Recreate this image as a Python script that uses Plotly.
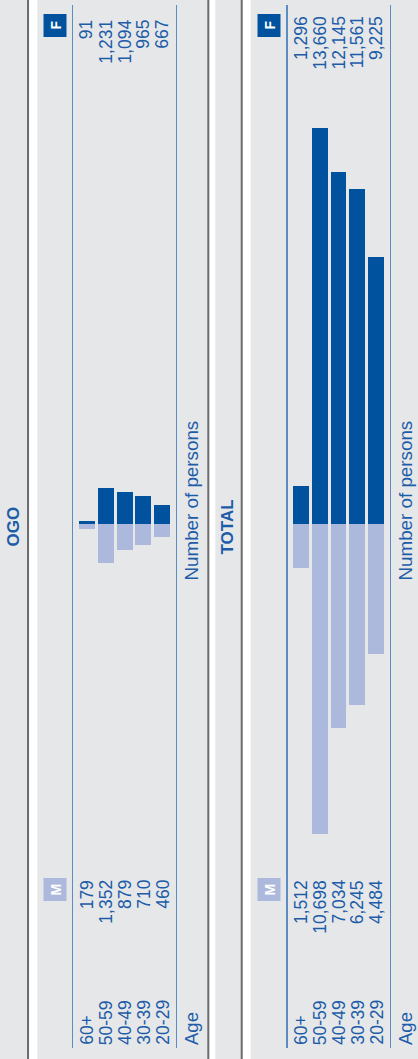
import plotly.graph_objects as go

# ---------------- data ----------------
age_groups = ["60+", "50-59", "40-49", "30-39", "20-29"]
ogo_female = [91, 1231, 1094, 965, 667]
ogo_male = [179, 1352, 879, 710, 460]
total_female = [1296, 13660, 12145, 11561, 9225]
total_male = [1512, 10698, 7034, 6245, 4484]
panel_titles = ["OGO", "TOTAL"]
value_axis_title = "Number of persons"
category_axis_title = "Age"

# ---------------- style ----------------
W, H = 418, 1059
F_COLOR = "#00529f"
M_COLOR = "#adb9dc"
TEXT_BLUE = "#1c5ca8"
LINE_BLUE = "#5d8cc4"
BG = "#e6e7e9"
DARK = "#6e6e6e"
FONT = "Liberation Sans, Arial, Helvetica, sans-serif"


def fx(px):
    return px / W


def fy(py):
    return 1 - py / H


fig = go.Figure()

panels = [
    dict(title=panel_titles[0], female=ogo_female, male=ogo_male, off=0,
         xa="x", ya="y", f_top=18),
    dict(title=panel_titles[1], female=total_female, male=total_male, off=214,
         xa="x2", ya="y2", f_top=14),
]

annotations = []
shapes = []

# page structure (strips, separators)
for x0, x1 in [(29.3, 37.3), (209.3, 215.3), (242.7, 250.7)]:
    shapes.append(dict(type="rect", xref="paper", yref="paper",
                       x0=fx(x0), x1=fx(x1), y0=0, y1=1,
                       fillcolor="#ffffff", line=dict(width=0), layer="below"))
for xc in [28.0, 208.3, 241.7]:
    shapes.append(dict(type="line", xref="paper", yref="paper",
                       x0=fx(xc), x1=fx(xc), y0=0, y1=1,
                       line=dict(color=DARK, width=2), layer="below"))

title_centers = [13.5, 227.5]

for i, p in enumerate(panels):
    off = p["off"]
    fig.add_trace(go.Bar(
        x=age_groups, y=p["female"], xaxis=p["xa"], yaxis=p["ya"],
        marker=dict(color=F_COLOR, line=dict(width=0)), width=0.85,
        hoverinfo="skip", showlegend=False))
    fig.add_trace(go.Bar(
        x=age_groups, y=[-v for v in p["male"]], xaxis=p["xa"], yaxis=p["ya"],
        marker=dict(color=M_COLOR, line=dict(width=0)), width=0.85,
        hoverinfo="skip", showlegend=False))

    # panel title
    annotations.append(dict(
        text="<b>%s</b>" % p["title"], textangle=-90, xref="paper", yref="paper",
        x=fx(title_centers[i]), y=fy(527), xanchor="center", yanchor="middle",
        showarrow=False, font=dict(family=FONT, size=17, color=TEXT_BLUE)))

    # F / M boxes
    for letter, color, y0, y1 in [("F", F_COLOR, 14, 37), ("M", M_COLOR, 878, 901)]:
        shapes.append(dict(type="rect", xref="paper", yref="paper",
                           x0=fx(43.5 + off), x1=fx(66.5 + off),
                           y0=fy(y1), y1=fy(y0),
                           fillcolor=color, line=dict(width=0)))
        annotations.append(dict(
            text="<b>%s</b>" % letter, textangle=-90, xref="paper", yref="paper",
            x=fx(55 + off), y=fy((y0 + y1) / 2), xanchor="center", yanchor="middle",
            showarrow=False, font=dict(family=FONT, size=14, color="#ffffff")))

    # row labels and numbers
    for j, g in enumerate(age_groups):
        annotations.append(dict(
            text=g, textangle=-90, xref=p["xa"], yref="paper",
            x=j, y=fy(1047), xanchor="center", yanchor="bottom",
            showarrow=False, font=dict(family=FONT, size=17.5, color=TEXT_BLUE)))
        annotations.append(dict(
            text=f"{p['male'][j]:,}", textangle=-90, xref=p["xa"], yref="paper",
            x=j, y=fy(878), xanchor="center", yanchor="top",
            showarrow=False, font=dict(family=FONT, size=17.5, color=TEXT_BLUE)))
        annotations.append(dict(
            text=f"{p['female'][j]:,}", textangle=-90, xref=p["xa"], yref="paper",
            x=j, y=fy(p["f_top"]), xanchor="center", yanchor="top",
            showarrow=False, font=dict(family=FONT, size=17.5, color=TEXT_BLUE)))

    # axis titles
    annotations.append(dict(
        text=category_axis_title, textangle=-90, xref="paper", yref="paper",
        x=fx(191.5 + off), y=fy(1047), xanchor="center", yanchor="bottom",
        showarrow=False, font=dict(family=FONT, size=18.5, color=TEXT_BLUE)))
    annotations.append(dict(
        text=value_axis_title, textangle=-90, xref="paper", yref="paper",
        x=fx(190.5 + off), y=fy(583), xanchor="center", yanchor="bottom",
        showarrow=False, font=dict(family=FONT, size=18.8, color=TEXT_BLUE)))

ydom = [fy(1048), fy(5)]
common_x = dict(range=[-0.72, 4.72], showticklabels=False, ticks="",
                showgrid=False, zeroline=False, showline=False,
                type="category", categoryorder="array", categoryarray=age_groups)
common_y = dict(range=[-18070, 17900], domain=ydom, showticklabels=False,
                ticks="", showgrid=False, zeroline=False, showline=True,
                mirror=True, linecolor=LINE_BLUE, linewidth=1.5)

fig.update_layout(
    width=W, height=H, autosize=False,
    margin=dict(l=0, r=0, t=0, b=0, pad=0),
    paper_bgcolor=BG, plot_bgcolor="rgba(0,0,0,0)",
    barmode="relative", bargap=0,
    xaxis=dict(domain=[fx(73.3), fx(175.7)], anchor="y", **common_x),
    yaxis=dict(anchor="x", **common_y),
    xaxis2=dict(domain=[fx(287.5), fx(389.5)], anchor="y2", **common_x),
    yaxis2=dict(anchor="x2", **common_y),
    shapes=shapes, annotations=annotations,
    showlegend=False,
    hovermode=False,
)

fig.write_html(
    "out.html",
    config={"displayModeBar": False, "staticPlot": True},
    post_script="document.body.style.margin='0';document.body.style.padding='0';",
)
